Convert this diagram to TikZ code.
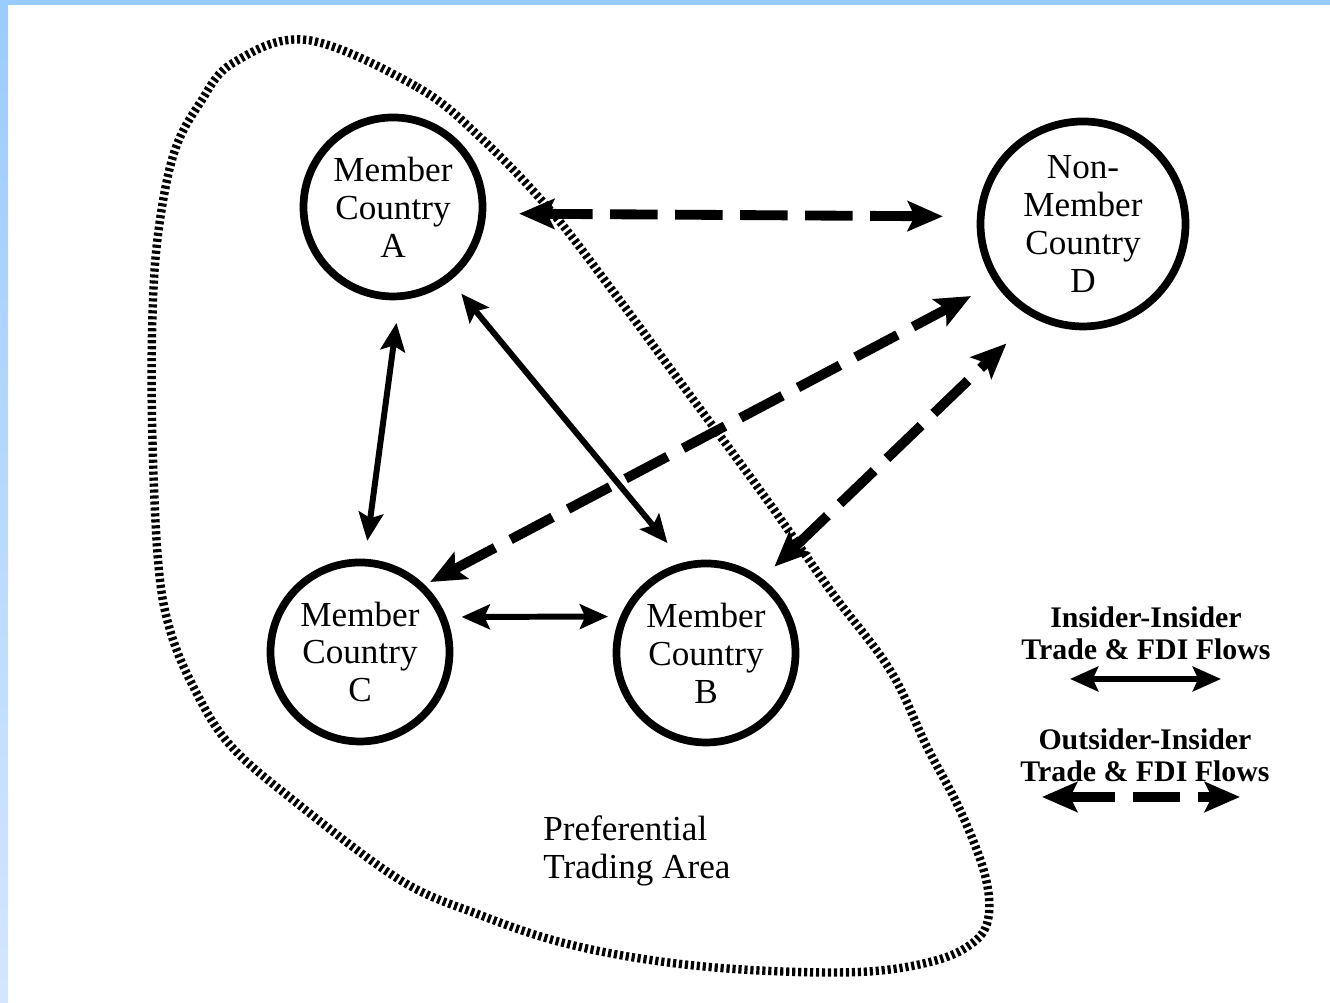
\documentclass[tikz,border=0pt]{standalone}
\usepackage{fontspec}
\setmainfont{Liberation Serif}
\usetikzlibrary{arrows.meta}
\definecolor{slideblue}{RGB}{153,204,255}
\definecolor{slidepale}{RGB}{212,230,255}

\begin{document}
\begin{tikzpicture}[
    font=\fontsize{10}{10.8}\selectfont,
    country/.style={draw, circle, line width=2.2pt, minimum size=1.79cm, inner sep=0pt, align=center},
    inside/.style={{Stealth[length=8pt, width=7pt, inset=1.5pt]}-{Stealth[length=8pt, width=7pt, inset=1.5pt]}, line width=1.7pt},
    outside/.style={{Stealth[length=10pt, width=8.5pt, inset=2pt]}-{Stealth[length=10pt, width=8.5pt, inset=2pt]}, line width=2.8pt, dash pattern=on 13.5pt off 5pt},
    region/.style={line width=2.4pt, dash pattern=on 0.9pt off 0.8pt},
    legend/.style={font=\fontsize{8.5}{9.2}\selectfont\bfseries, align=center}
]
\useasboundingbox (0,0) rectangle (13.3,10.03);
% slide border
\fill[top color=slideblue, bottom color=slidepale] (0,0) rectangle (0.08,10.03);
\fill[slideblue] (0,9.98) rectangle (13.3,10.03);

% preferential trading area
\draw[region] plot[smooth cycle, tension=0.6] coordinates {
  (3.07,9.63) (4.17,9.16) (4.83,8.63) (5.50,7.93) (6.12,7.13) (6.75,6.28)
  (7.67,5.03) (8.30,4.13) (8.90,3.33) (9.27,2.56) (9.60,1.93) (9.85,1.28)
  (9.88,0.83) (9.70,0.58) (9.30,0.41) (8.60,0.31) (7.50,0.33) (6.50,0.43)
  (5.60,0.61) (4.80,0.88) (4.00,1.23) (2.93,2.03) (2.30,2.58) (1.95,3.13)
  (1.70,3.73) (1.58,4.43) (1.52,5.83) (1.53,7.03) (1.60,7.83) (1.75,8.53)
  (2.00,9.00) (2.33,9.40)};

\node[country] (A) at (3.93,7.96) {Member\\Country\\A};
\node[country] (C) at (3.60,3.51) {Member\\Country\\C};
\node[country] (B) at (7.06,3.50) {Member\\Country\\B};
\node[country, minimum size=2.05cm] (D) at (10.83,7.79) {Non-\\Member\\Country\\D};

\node[align=left, anchor=west] (pta) at (5.31,1.52) {Preferential\\Trading Area};

% insider flows
\draw[inside, shorten <=0.23cm, shorten >=0.18cm] (A.-86) -- (C.87);
\draw[inside, shorten <=0.17cm, shorten >=0.25cm] (A.-52) -- (B.104);
\draw[inside, shorten <=0.15cm, shorten >=0.12cm] (C.22) -- (B.157);

% outsider flows
\draw[outside, shorten <=0.33cm, shorten >=0.34cm] (A.-4) -- (D.176);
\draw[outside, shorten <=0.06cm, shorten >=0.27cm] (C.46) -- (D.214);
\draw[outside, shorten <=0.17cm, shorten >=0.37cm] (B.53) -- (D.242);

% legend
\node[legend] (insleg) at (11.46,3.70) {Insider-Insider\\Trade \& FDI Flows};
\node[legend] (outleg) at (11.45,2.48) {Outsider-Insider\\Trade \& FDI Flows};
\coordinate (insL) at (10.70,3.24);
\coordinate (insR) at (12.21,3.24);
\coordinate (outL) at (10.42,2.06);
\coordinate (outR) at (12.40,2.06);
\draw[inside] (insL) -- (insR);
\draw[outside] (outL) -- (outR);
\end{tikzpicture}
\end{document}
